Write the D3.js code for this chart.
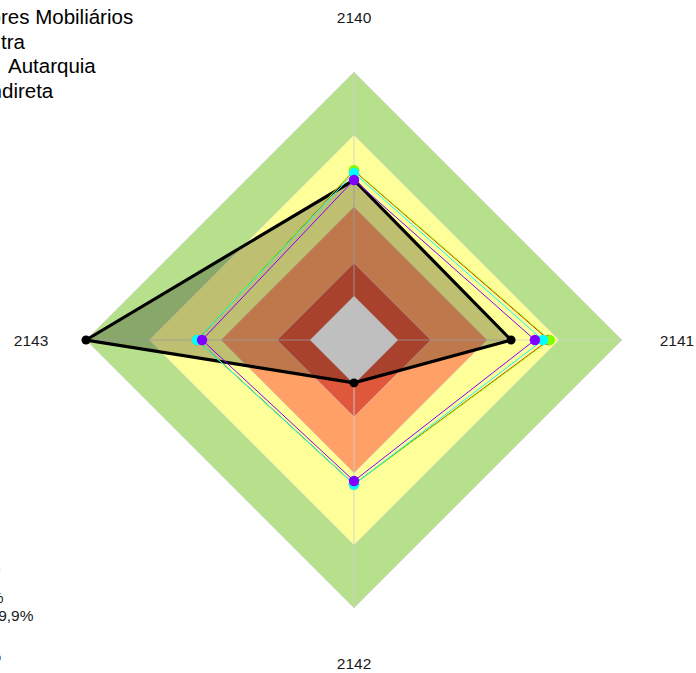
<!DOCTYPE html>
<html>
<head>
<meta charset="utf-8">
<script src="https://cdn.jsdelivr.net/npm/d3@7"></script>
<style>
  html, body { margin: 0; padding: 0; background: #ffffff; overflow: hidden; }
  svg { display: block; font-family: "Liberation Sans", Arial, sans-serif; }
</style>
</head>
<body>
<svg id="chart" width="696" height="673"></svg>
<script>
// ---- data ----
const axisLabels = ["2140", "2141", "2142", "2143"];
const bandLimits = [16.4, 28.7, 49.6, 76.5, 100];
const seriesNames = ["Valores Mobiliários", "Outra", "Autarquia", "Indireta"];
const seriesRed    = [63.2, 72.7, 53.8, 58.5];
const seriesGreen  = [63.4, 73.1, 53.9, 58.6];
const seriesCyan   = [62.3, 70.5, 53.9, 58.6];
const seriesPurple = [59.7, 67.5, 52.6, 56.7];
const seriesBlack  = [59.7, 58.6, 16.0, 100];
const bandLegendLabels = ["80% - 89,9%", "90% - 99,9%"];

// ---- styles ----
const bandColors = ["#e0583c", "#ffa066", "#ffff99", "#b6e08c"];
const seriesColors = ["#ff0000", "#80ff00", "#00ffff", "#8000ff"];

const W = 696, H = 673, cx = 354, cy = 340, R = 268;
const svg = d3.select("#chart");
const g = svg.append("g").attr("transform", `translate(${cx},${cy})`);

const r = d3.scaleLinear().domain([0, 100]).range([0, R]);
const angle = d3.scaleLinear().domain([0, axisLabels.length]).range([0, 2 * Math.PI]);
const px = (i, v) => r(v) * Math.sin(angle(i));
const py = (i, v) => -r(v) * Math.cos(angle(i));

const ring = v => d3.lineRadial()
  .angle((d, i) => angle(i))
  .radius(() => r(v))
  .curve(d3.curveLinearClosed)(axisLabels);

// bands, outer first
for (let i = bandLimits.length - 1; i >= 1; i--) {
  g.append("path").attr("d", ring(bandLimits[i])).attr("fill", bandColors[i - 1]);
}
g.append("path").attr("d", ring(bandLimits[0])).attr("fill", "#ffffff");

// grid outlines
bandLimits.forEach(v => {
  g.append("path").attr("d", ring(v)).attr("fill", "none")
    .attr("stroke", "#d6d6d6").attr("stroke-opacity", 0.55).attr("stroke-width", 1);
});
// axis lines
axisLabels.forEach((a, i) => {
  g.append("line")
    .attr("x1", px(i, bandLimits[0])).attr("y1", py(i, bandLimits[0]))
    .attr("x2", px(i, 100)).attr("y2", py(i, 100))
    .attr("stroke", "#d0d0d0").attr("stroke-opacity", 0.75).attr("stroke-width", 1.2);
});

const radarLine = d3.lineRadial()
  .angle((d, i) => angle(i))
  .radius(d => r(d))
  .curve(d3.curveLinearClosed);

// black series
g.append("path").attr("d", radarLine(seriesBlack))
  .attr("fill", "#000000").attr("fill-opacity", 0.25)
  .attr("stroke", "#000000").attr("stroke-width", 3.2).attr("stroke-linejoin", "miter");
g.selectAll(".bdot").data(seriesBlack).enter().append("circle")
  .attr("cx", (d, i) => px(i, d)).attr("cy", (d, i) => py(i, d))
  .attr("r", 4.5).attr("fill", "#000000");

// coloured series
const colSeries = [seriesRed, seriesGreen, seriesCyan, seriesPurple];
colSeries.forEach((s, k) => {
  g.append("path").attr("d", radarLine(s))
    .attr("fill", "none").attr("stroke", seriesColors[k]).attr("stroke-width", 1);
});
colSeries.forEach((s, k) => {
  g.selectAll(".dot" + k).data(s).enter().append("circle")
    .attr("cx", (d, i) => px(i, d)).attr("cy", (d, i) => py(i, d))
    .attr("r", 5.2).attr("fill", seriesColors[k]);
});

// axis labels
const labR = 323;
axisLabels.forEach((a, i) => {
  g.append("text")
    .attr("x", labR * Math.sin(angle(i)))
    .attr("y", -labR * Math.cos(angle(i)))
    .attr("text-anchor", "middle").attr("dominant-baseline", "central")
    .attr("font-size", "15.5px").attr("fill", "#1a1a1a")
    .text(a);
});

// top-left legend (partly outside the view, as in the reference)
const legVis = [[4, 1], [2, 1], [0, 8], [2, 2]]; // first visible char index, its x
seriesNames.forEach((name, k) => {
  const t = svg.append("text")
    .attr("y", 24 + k * 24.7)
    .attr("font-size", "20.5px").attr("fill", "#000000")
    .text(name);
  const node = t.node();
  const [idx, xv] = legVis[k];
  const off = idx > 0 ? node.getSubStringLength(0, idx) : 0;
  t.attr("x", xv - off);
});

// bottom-left legend (partly outside the view)
svg.append("circle").attr("cx", -4.6).attr("cy", 570).attr("r", 5).attr("fill", "#9fe3f5");
bandLegendLabels.forEach((lab, k) => {
  svg.append("text")
    .attr("x", k === 0 ? 3.5 : 33.5)
    .attr("y", 602.5 + k * 18.5)
    .attr("text-anchor", "end")
    .attr("font-size", "15.5px").attr("fill", "#1a1a1a")
    .text(lab);
});
svg.append("circle").attr("cx", -4.2).attr("cy", 658).attr("r", 5).attr("fill", "#1f5fbf");
</script>
</body>
</html>
